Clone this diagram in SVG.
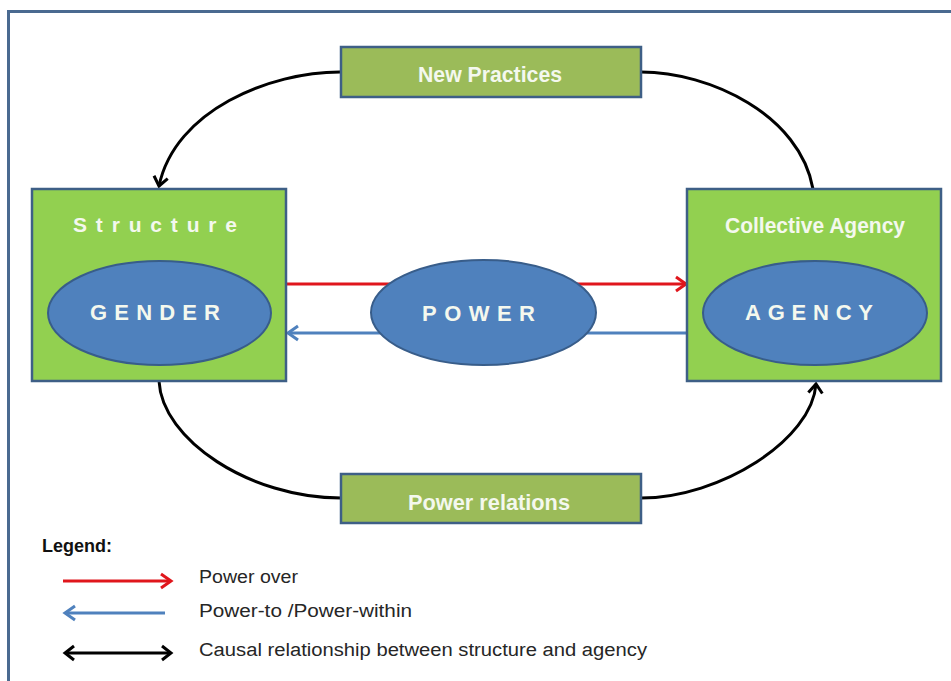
<svg xmlns="http://www.w3.org/2000/svg" width="951" height="681" viewBox="0 0 951 681">
<style>
.frame{fill:#ffffff;stroke:#4a6a90;stroke-width:3}
.mid{fill:#9bbb59;stroke:#3e5f86;stroke-width:2.5}
.big{fill:#92d050;stroke:#3e5f86;stroke-width:2.5}
.ell{fill:#4f81bd;stroke:#385d8a;stroke-width:2}
.wt{fill:#f4f8ee;font-family:"Liberation Sans",Arial,sans-serif;font-weight:bold}
.lt{fill:#262626;font-family:"Liberation Sans",Arial,sans-serif;font-size:18px}
.curve{fill:none;stroke:#000;stroke-width:3}
.red{fill:none;stroke:#e0161c;stroke-width:3}
.blue{fill:none;stroke:#4f81bd;stroke-width:3}
</style>
<defs>
<marker id="ah-black" markerUnits="userSpaceOnUse" markerWidth="24" markerHeight="24" viewBox="-12 -12 24 24" refX="0" refY="0" orient="auto-start-reverse">
<path d="M-9,-7 L0,0 L-9,7" fill="none" stroke="#000" stroke-width="3"/>
</marker>
<marker id="ah-red" markerUnits="userSpaceOnUse" markerWidth="24" markerHeight="24" viewBox="-12 -12 24 24" refX="0" refY="0" orient="auto">
<path d="M-10,-7 L0,0 L-10,7" fill="none" stroke="#e0161c" stroke-width="3"/>
</marker>
<marker id="ah-blue" markerUnits="userSpaceOnUse" markerWidth="24" markerHeight="24" viewBox="-12 -12 24 24" refX="0" refY="0" orient="auto">
<path d="M-10,-7 L0,0 L-10,7" fill="none" stroke="#4f81bd" stroke-width="3"/>
</marker>
</defs>
<rect x="0" y="0" width="951" height="681" fill="#ffffff"/>
<rect class="frame" x="8.5" y="11.5" width="960" height="700"/>

<g id="connectors">
<path class="curve" d="M340,72 C270,72 175,110 159,186" marker-end="url(#ah-black)"/>
<path class="curve" d="M641,72 C710,72 800,115 813,189"/>
<path class="curve" d="M159,381 C162,440 250,498 341,498"/>
<path class="curve" d="M641,498 C720,498 812,440 816,384" marker-end="url(#ah-black)"/>
<line class="red" x1="287" y1="284" x2="686" y2="284" marker-end="url(#ah-red)"/>
<line class="blue" x1="687" y1="333" x2="288" y2="333" marker-end="url(#ah-blue)"/>
</g>

<g id="new-practices">
<rect class="mid" x="341" y="47" width="300" height="50"/>
<text class="wt" x="418" y="82" font-size="22" textLength="144" lengthAdjust="spacingAndGlyphs">New Practices</text>
</g>

<g id="power-relations">
<rect class="mid" x="341" y="474" width="300" height="49"/>
<text class="wt" x="408" y="510" font-size="22" textLength="162" lengthAdjust="spacingAndGlyphs">Power relations</text>
</g>

<g id="structure">
<rect class="big" x="32" y="189" width="254" height="192"/>
<text class="wt" x="73" y="232" font-size="21" textLength="164" lengthAdjust="spacing">Structure</text>
</g>

<g id="gender">
<ellipse class="ell" cx="159.5" cy="313" rx="111.5" ry="52"/>
<text class="wt" x="90" y="320" font-size="22" textLength="130" lengthAdjust="spacing">GENDER</text>
</g>

<g id="collective-agency">
<rect class="big" x="687" y="189" width="254" height="192"/>
<text class="wt" x="725" y="233" font-size="22" textLength="180" lengthAdjust="spacingAndGlyphs">Collective Agency</text>
</g>

<g id="agency">
<ellipse class="ell" cx="815" cy="313" rx="112" ry="52"/>
<text class="wt" x="745" y="320" font-size="22" textLength="128" lengthAdjust="spacing">AGENCY</text>
</g>

<g id="power">
<ellipse class="ell" cx="483.5" cy="312.5" rx="112.5" ry="52.5"/>
<text class="wt" x="422" y="321" font-size="22" textLength="113" lengthAdjust="spacing">POWER</text>
</g>

<g id="legend">
<text x="42" y="552" font-family="'Liberation Sans',Arial,sans-serif" font-weight="bold" font-size="18" fill="#111" textLength="70" lengthAdjust="spacingAndGlyphs">Legend:</text>
<line class="red" x1="63" y1="581" x2="171" y2="581" marker-end="url(#ah-red)"/>
<line class="blue" x1="165" y1="613" x2="65" y2="613" marker-end="url(#ah-blue)"/>
<line class="curve" x1="65" y1="653" x2="171" y2="653" marker-start="url(#ah-black)" marker-end="url(#ah-black)"/>
<text class="lt" x="199" y="583" textLength="99" lengthAdjust="spacingAndGlyphs">Power over</text>
<text class="lt" x="199" y="617" textLength="213" lengthAdjust="spacingAndGlyphs">Power-to /Power-within</text>
<text class="lt" x="199" y="656" textLength="448" lengthAdjust="spacingAndGlyphs">Causal relationship between structure and agency</text>
</g>
</svg>
